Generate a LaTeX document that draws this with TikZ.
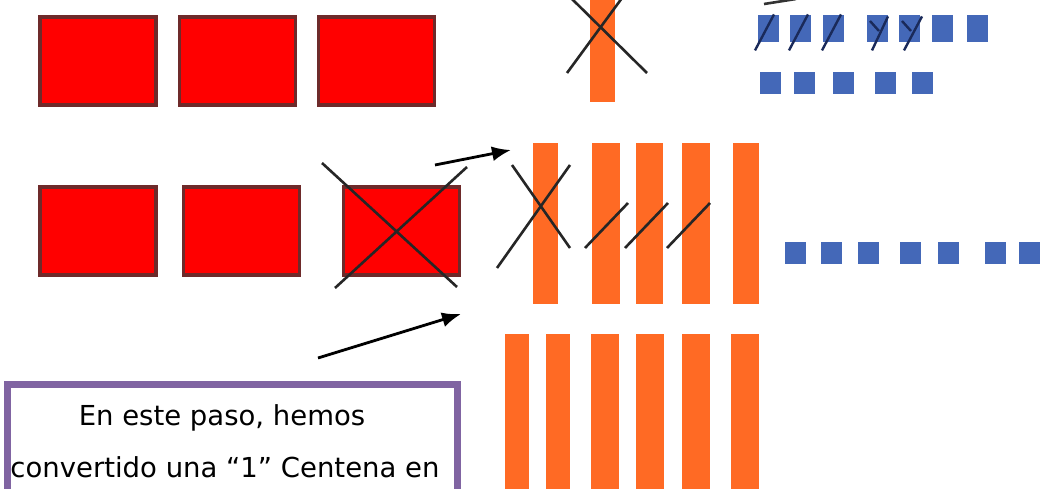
\documentclass[tikz,border=0pt]{standalone}
\usepackage{fontspec}
\setmainfont{DejaVu Sans}
\usetikzlibrary{arrows.meta}
\definecolor{boxred}{HTML}{FF0000}
\definecolor{rededge}{HTML}{6E2A2A}
\definecolor{barorange}{HTML}{FF6A24}
\definecolor{unitblue}{HTML}{4468B8}
\definecolor{slashnavy}{HTML}{1A2A5A}
\definecolor{framepurple}{HTML}{8064A2}
\tikzset{
  redbox/.style={draw=rededge, fill=boxred, line width=3.5pt, minimum width=116pt, minimum height=88pt, inner sep=0pt},
  bar/.style={fill=barorange, draw=none, inner sep=0pt, anchor=north west},
  unit/.style={fill=unitblue, draw=none, inner sep=0pt, minimum width=21pt, minimum height=22pt, anchor=north west},
  tallunit/.style={unit, minimum height=27pt},
  cross/.style={draw=black!85, line width=2.6pt},
  uslash/.style={draw=slashnavy, line width=2.4pt},
  pointer/.style={draw=black, line width=2.8pt, -{Latex[length=19pt,width=15pt]}},
  note/.style={font=\fontsize{27.5}{33}\selectfont, anchor=base, inner sep=0pt}
}
\begin{document}
\begin{tikzpicture}[x=1pt,y=-1pt]
\useasboundingbox (0,0) rectangle (1044,489);
\fill[white] (0,0) rectangle (1044,489);
\clip (0,0) rectangle (1044,489);

% red hundreds blocks
\node[redbox] (r1) at (98,61) {};
\node[redbox] (r2) at (237.5,61) {};
\node[redbox] (r3) at (376.5,61) {};
\node[redbox] (r4) at (98,231) {};
\node[redbox] (r5) at (241.5,231) {};
\node[redbox] (r6) at (401.5,231) {};

% cross on r6
\coordinate (x6a) at (322,163); \coordinate (x6b) at (457,287);
\coordinate (x6c) at (335,288); \coordinate (x6d) at (467,167);
\draw[cross] (x6a) -- (x6b);
\draw[cross] (x6c) -- (x6d);

% top orange bar
\node[bar, minimum width=25pt, minimum height=104pt] (t1) at (590,-2) {};
\coordinate (tx1) at (571,-2); \coordinate (tx2) at (647,73);
\coordinate (tx3) at (567,73); \coordinate (tx4) at (622,-2);
\draw[cross] (tx1) -- (tx2);
\draw[cross] (tx3) -- (tx4);

% middle orange bars
\node[bar, minimum width=25pt, minimum height=161pt] (m1) at (533,143) {};
\node[bar, minimum width=28pt, minimum height=161pt] (m2) at (592,143) {};
\node[bar, minimum width=27pt, minimum height=161pt] (m3) at (636,143) {};
\node[bar, minimum width=28pt, minimum height=161pt] (m4) at (682,143) {};
\node[bar, minimum width=26pt, minimum height=161pt] (m5) at (733,143) {};

% marks on middle bars
\coordinate (mx1) at (512,165); \coordinate (mx2) at (570,248);
\coordinate (mx3) at (497,268); \coordinate (mx4) at (570,165);
\draw[cross] (mx1) -- (mx2);
\draw[cross] (mx3) -- (mx4);
\coordinate (s1a) at (585,248); \coordinate (s1b) at (628,203);
\coordinate (s2a) at (625,248); \coordinate (s2b) at (668,203);
\coordinate (s3a) at (667,248); \coordinate (s3b) at (710,203);
\draw[cross] (s1a) -- (s1b);
\draw[cross] (s2a) -- (s2b);
\draw[cross] (s3a) -- (s3b);

% bottom orange bars
\node[bar, minimum width=24pt, minimum height=160pt] (b1) at (505,334) {};
\node[bar, minimum width=24pt, minimum height=160pt] (b2) at (546,334) {};
\node[bar, minimum width=28pt, minimum height=160pt] (b3) at (591,334) {};
\node[bar, minimum width=28pt, minimum height=160pt] (b4) at (636,334) {};
\node[bar, minimum width=28pt, minimum height=160pt] (b5) at (682,334) {};
\node[bar, minimum width=28pt, minimum height=160pt] (b6) at (731,334) {};

% blue units, top rows
\node[tallunit] (u1) at (758,15) {};
\node[tallunit] (u2) at (790,15) {};
\node[tallunit] (u3) at (823,15) {};
\node[tallunit] (u4) at (867,15) {};
\node[tallunit] (u5) at (899,15) {};
\node[tallunit] (u6) at (932,15) {};
\node[tallunit] (u7) at (967,15) {};
\node[unit] (v1) at (760,72) {};
\node[unit] (v2) at (794,72) {};
\node[unit] (v3) at (833,72) {};
\node[unit] (v4) at (875,72) {};
\node[unit] (v5) at (912,72) {};

% slashes on units
\draw[uslash] (u1.south west) ++(-3,8) -- ++(19,-36);
\draw[uslash] (u2.south west) ++(-1,8) -- ++(19,-36);
\draw[uslash] (u3.south west) ++(-1,8) -- ++(19,-36);
\draw[uslash] (u4.south west) ++(5,8) -- ++(16,-34);
\draw[uslash] (u4.north west) ++(3,6) -- ++(9,10);
\draw[uslash] (u5.south west) ++(5,8) -- ++(18,-34);
\draw[uslash] (u5.north west) ++(3,6) -- ++(9,10);

% cut-off stroke at top
\coordinate (c1) at (764,4); \coordinate (c2) at (796,-1);
\draw[draw=black!80, line width=2.6pt] (c1) -- (c2);

% blue units, middle row
\node[unit] (w1) at (785,242) {};
\node[unit] (w2) at (821,242) {};
\node[unit] (w3) at (858,242) {};
\node[unit] (w4) at (900,242) {};
\node[unit] (w5) at (938,242) {};
\node[unit] (w6) at (985,242) {};
\node[unit] (w7) at (1019,242) {};

% arrows
\coordinate (a1s) at (435,165); \coordinate (a1e) at (511,150);
\draw[pointer] (a1s) -- (a1e);
\coordinate (a2s) at (318,358); \coordinate (a2e) at (461,314);
\draw[pointer] (a2s) -- (a2e);

% note box
\node[draw=framepurple, line width=7pt, fill=white, minimum width=450pt, minimum height=160pt, anchor=north west, inner sep=0pt] (nb) at (3.5,380.5) {};
\node[note] (n1) at (222,425) {En este paso, hemos};
\node[note] (n2) at (225,477) {convertido una “1” Centena en};
\end{tikzpicture}
\end{document}
